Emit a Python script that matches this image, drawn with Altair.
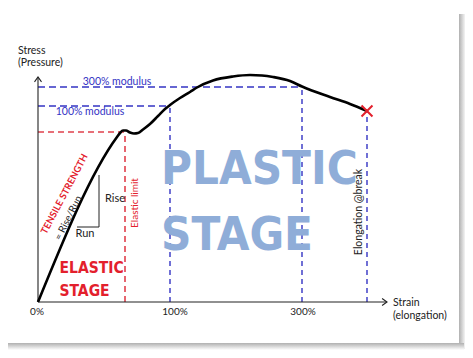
import altair as alt
import pandas as pd

# ---- data (schematic units: strain to the right, stress upward) ----
curve_strain = [0, 79, 82, 85, 88, 92, 96, 100, 105, 112, 120, 127, 132, 142, 152, 159,
                175, 195, 212, 224, 235, 252, 264, 292, 312, 329]
curve_stress = [0, 165, 169, 171.5, 171.5, 169.5, 168.5, 169, 172.5, 178, 186, 193, 197,
                204, 210, 214.5, 221.5, 225.5, 227, 226.5, 225, 221, 215.5, 205, 198, 191]

guide_names = ["elastic", "mod100", "mod300", "break"]
guide_strain = [87, 132, 264, 329]
guide_stress = [170, 196, 215, 191]

tick_labels = ["0%", "100%", "300%"]
tick_strain = [-1, 137, 265]

axis_x_end = 349
axis_y_end = 225

tri_strain = [39, 61, 61]
tri_stress = [75, 75, 127]

XS = alt.Scale(domain=[-30, 427], nice=False, zero=False)
YS = alt.Scale(domain=[-48, 294], nice=False, zero=False)

BLUE = "#3434c4"
RED = "#e0404c"
RED_TXT = "#e3202c"
PLASTIC_COL = "#8fadd8"
DARK = "#222222"
CONDENSED = "DejaVu Sans Condensed, Liberation Sans Narrow, sans-serif"

def X(f="x"):
    return alt.X(f"{f}:Q", scale=XS, axis=None)

def Y(f="y"):
    return alt.Y(f"{f}:Q", scale=YS, axis=None)

layers = []

# card shadow (decoration)
layers.append(alt.Chart(pd.DataFrame({"a": [0]})).mark_rect(
    color=alt.LinearGradient(gradient="linear", x1=0, x2=1, y1=0, y2=0,
                             stops=[alt.GradientStop(color="#b0b0b0", offset=0),
                                    alt.GradientStop(color="#ffffff", offset=1)])
).encode(x=alt.value(451), x2=alt.value(458), y=alt.value(6), y2=alt.value(341)))
layers.append(alt.Chart(pd.DataFrame({"a": [0]})).mark_rect(
    color=alt.LinearGradient(gradient="linear", x1=0, x2=0, y1=0, y2=1,
                             stops=[alt.GradientStop(color="#b0b0b0", offset=0),
                                    alt.GradientStop(color="#ffffff", offset=1)])
).encode(x=alt.value(0), x2=alt.value(456), y=alt.value(335), y2=alt.value(342)))
layers.append(alt.Chart(pd.DataFrame({"a": [0]})).mark_rect(
    color="#ffffff"
).encode(x=alt.value(0), x2=alt.value(451), y=alt.value(0), y2=alt.value(335)))

# guide lines
gd = pd.DataFrame({"name": guide_names, "x": guide_strain, "y": guide_stress})
gd["zero"] = 0
red = gd[gd.name == "elastic"]
blue_h = gd[gd.name.isin(["mod100", "mod300"])]
blue_v = gd[gd.name.isin(["mod100", "mod300", "break"])]

layers.append(alt.Chart(red).mark_rule(color=RED, strokeWidth=1.6, strokeDash=[6, 4]).encode(
    x=X("zero"), x2="x:Q", y=Y("y")))
layers.append(alt.Chart(red).mark_rule(color=RED, strokeWidth=1.6, strokeDash=[6, 4]).encode(
    x=X("x"), y=Y("zero"), y2="y:Q"))
layers.append(alt.Chart(blue_h).mark_rule(color=BLUE, strokeWidth=1.4, strokeDash=[7, 4]).encode(
    x=X("zero"), x2="x:Q", y=Y("y")))
layers.append(alt.Chart(blue_v).mark_rule(color=BLUE, strokeWidth=1.4, strokeDash=[5, 4]).encode(
    x=X("x"), y=Y("zero"), y2="y:Q"))

def txt(items, **kw):
    df = pd.DataFrame(items, columns=["t", "x", "y"])
    return alt.Chart(df).mark_text(**kw).encode(x=X(), y=Y(), text="t:N")

# big stage words
layers.append(txt([["PLASTIC", 123, 118], ["STAGE", 123, 52]],
                  font=CONDENSED, fontWeight="bold", fontSize=47, color=PLASTIC_COL,
                  align="left", baseline="alphabetic"))
layers.append(txt([["ELASTIC", 21.5, 29], ["STAGE", 21.5, 6.5]],
                  font=CONDENSED, fontWeight="bold", fontSize=15.5, color=RED_TXT,
                  align="left", baseline="alphabetic"))

# axes
ax = pd.DataFrame({"x": [0, 0], "x2": [axis_x_end, 0], "y": [0, 0], "y2": [0, axis_y_end]})
layers.append(alt.Chart(ax).mark_rule(color=DARK, strokeWidth=1.1).encode(
    x=X("x"), x2="x2:Q", y=Y("y"), y2="y2:Q"))
layers.append(alt.Chart(pd.DataFrame({"x": [0], "y": [axis_y_end]})).mark_point(
    shape="M-1,1.4L0,0L1,1.4", filled=False, color=DARK, strokeWidth=1.1, size=49, opacity=1
).encode(x=X(), y=Y()))
layers.append(alt.Chart(pd.DataFrame({"x": [axis_x_end], "y": [0]})).mark_point(
    shape="M-1.4,-1L0,0L-1.4,1", filled=False, color=DARK, strokeWidth=1.1, size=49, opacity=1
).encode(x=X(), y=Y()))

# rise / run triangle
tri = pd.DataFrame({"x": tri_strain, "y": tri_stress, "o": [0, 1, 2]})
layers.append(alt.Chart(tri).mark_line(color=DARK, strokeWidth=1).encode(
    x=X(), y=Y(), order="o:Q"))

# curve
cv = pd.DataFrame({"x": curve_strain, "y": curve_stress, "o": range(len(curve_strain))})
layers.append(alt.Chart(cv).mark_line(color="#000000", strokeWidth=2.6, interpolate="monotone").encode(
    x=X(), y=Y(), order="o:Q"))

# break marker
brk = gd[gd.name == "break"]
layers.append(alt.Chart(brk).mark_point(
    shape="M-1,-1L1,1M-1,1L1,-1", filled=False, color=RED_TXT, strokeWidth=2, size=120, opacity=1
).encode(x=X(), y=Y()))

# other texts
layers.append(txt([["Stress", -20, 251], ["(Pressure)", -20, 239]],
                  font="Lato", fontSize=10.5, color=DARK, align="left", baseline="middle"))
layers.append(txt([["Strain", 355, -1], ["(elongation)", 355, -14]],
                  font="Lato", fontSize=10.5, color=DARK, align="left", baseline="middle"))
layers.append(txt([[t, x, -10] for t, x in zip(tick_labels, tick_strain)],
                  font="Lato", fontSize=10, color=DARK, align="center", baseline="middle"))
layers.append(txt([["300% modulus", 79, 220], ["100% modulus", 52, 190]],
                  font="Lato", fontSize=10.5, color=BLUE, align="center", baseline="middle"))
layers.append(txt([["Rise", 77, 103], ["Run", 47, 68]],
                  font="Lato", fontSize=11, color=DARK, align="center", baseline="middle"))
layers.append(txt([["TENSILE STRENGTH", 26.5, 108]],
                  font="Lato", fontWeight="bold", fontSize=9.5, color=RED_TXT, align="center",
                  baseline="middle", angle=298))
layers.append(txt([["= Rise/Run", 30.5, 84]],
                  font="Lato", fontSize=10, color=DARK, align="center", baseline="middle", angle=297))
layers.append(txt([["Elastic limit", 97, 99]],
                  font="Lato", fontSize=10, color=RED_TXT, align="center", baseline="middle", angle=270))
layers.append(txt([["Elongation @break", 321, 90]],
                  font="Lato", fontSize=10.5, color=DARK, align="center", baseline="middle", angle=270))

chart = alt.layer(*layers).properties(
    width=457, height=342, padding=0, autosize=alt.AutoSizeParams(type="none"),
    background="white"
).configure_view(stroke=None)

chart.save("out.html", embed_options={"renderer": "svg", "actions": False})
